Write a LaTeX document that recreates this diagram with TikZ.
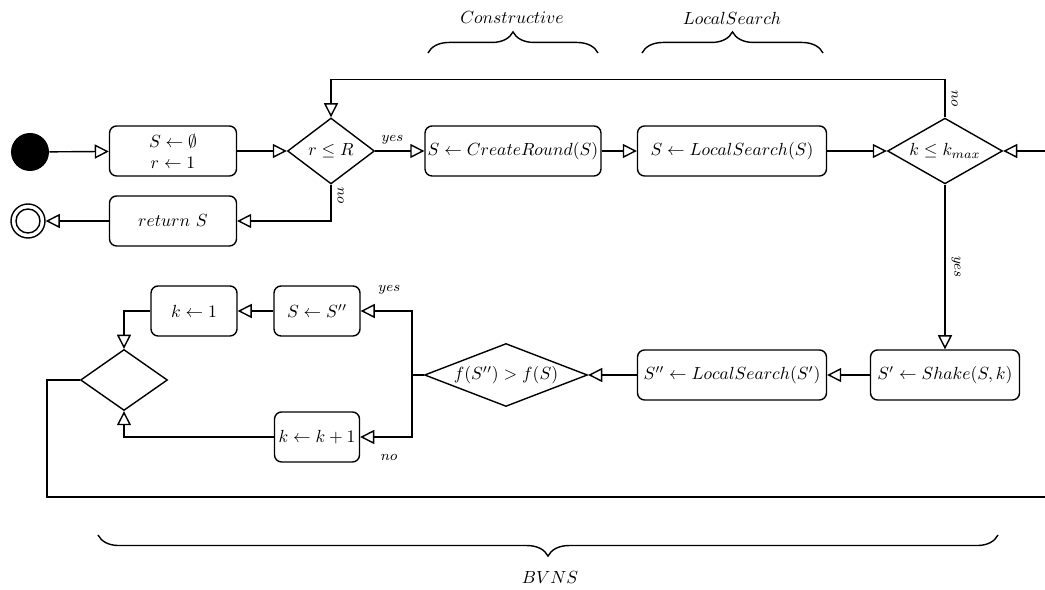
\documentclass[tikz,border=0pt]{standalone}
\usepackage{amsmath,amssymb}
\usepackage{tikz}
\usetikzlibrary{arrows.meta,shapes.geometric,decorations.pathreplacing}

\tikzset{
  act/.style={draw, thick, rounded corners=4pt, minimum height=1cm, inner sep=1pt},
  dec/.style={draw, thick, diamond, inner sep=0pt, aspect=1.4},
  flow/.style={thick, -{Triangle[open,length=8pt,width=8pt]}},
  lbl/.style={font=\footnotesize},
  brc/.style={thick, decorate, decoration={brace, amplitude=12pt}}
}

\begin{document}
\begin{tikzpicture}[x=0.02cm, y=-0.02cm]
\useasboundingbox (0,0) rectangle (1045,590);
\clip (0,0) rectangle (1045,590);
% Start and end
\node[circle, fill=black, minimum size=0.76cm, inner sep=0pt] (start) at (30,152) {};
\node[circle, draw, thick, minimum size=0.68cm, inner sep=0pt] (stop) at (28,221) {};
\draw[thick] (stop.center) circle (0.24cm);
% Outer loop
\node[act, minimum width=2.54cm, align=center] (init) at (173,151) {$S \leftarrow \emptyset$\\$r \leftarrow 1$};
\node[dec, minimum width=1.74cm, minimum height=1.32cm] (rdec) at (331,151) {$r \leq R$};
\node[act, minimum width=2.54cm] (ret) at (173,221) {$return~S$};
\node[act, minimum width=3.52cm] (create) at (513,151) {$S \leftarrow CreateRound(S)$};
\node[act, minimum width=3.78cm] (ls1) at (732,151) {$S \leftarrow LocalSearch(S)$};
\node[dec, minimum width=2.3cm, minimum height=1.24cm] (kdec) at (945,151) {$k \leq k_{max}$};
% Inner loop
\node[act, minimum width=2.98cm] (shake) at (945,375) {$S' \leftarrow Shake(S,k)$};
\node[act, minimum width=3.78cm] (ls2) at (732,375) {$S'' \leftarrow LocalSearch(S')$};
\node[dec, minimum width=3.26cm, minimum height=1.26cm, aspect=2.6] (fdec) at (506,375) {$f(S'') > f(S)$};
\node[act, minimum width=1.72cm] (accept) at (317,311) {$S \leftarrow S''$};
\node[act, minimum width=1.72cm] (reset) at (194,311) {$k \leftarrow 1$};
\node[act, minimum width=1.7cm] (inc) at (317,437) {$k \leftarrow k+1$};
\node[dec, minimum width=1.74cm, minimum height=1.22cm] (merge) at (124,380) {};
\coordinate (back) at (1100,497);
% Connectors
\draw[flow] (start) -- (init);
\draw[flow] (init) -- (rdec);
\draw[flow] (rdec) -- node[lbl, above, pos=0.35] {$yes$} (create);
\draw[flow] (rdec.south) |- node[lbl, pos=0.15, rotate=-90, anchor=south] {$no$} (ret);
\draw[flow] (ret) -- (stop);
\draw[flow] (create) -- (ls1);
\draw[flow] (ls1) -- (kdec);
\draw[flow] (kdec.north) -- node[lbl, rotate=-90, anchor=south] {$no$} ++(0,-38) -| (rdec.north);
\draw[flow] (kdec) -- node[lbl, rotate=-90, anchor=south] {$yes$} (shake);
\draw[flow] (shake) -- (ls2);
\draw[flow] (ls2) -- (fdec);
\draw[flow] (fdec.west) -- ++(-12,0) |- node[lbl, pos=0.72, above=6pt] {$yes$} (accept);
\draw[flow] (fdec.west) -- ++(-12,0) |- node[lbl, pos=0.72, below=6pt] {$no$} (inc);
\draw[flow] (accept) -- (reset);
\draw[flow] (reset.west) -| (merge.north);
\draw[flow] (inc.west) -| (merge.south);
\draw[flow] (merge.west) -- ++(-33,0) |- (back) |- (kdec.east);
% Braces
\draw[brc] (428,53) -- (598,53);
\draw[brc] (642,53) -- (823,53);
\draw[brc] (998,535) -- (98,535);
\node (conslbl) at (512,18) {$Constructive$};
\node (lslbl) at (732,18) {$LocalSearch$};
\node (bvnslbl) at (550,578) {$BVNS$};
\end{tikzpicture}
\end{document}
